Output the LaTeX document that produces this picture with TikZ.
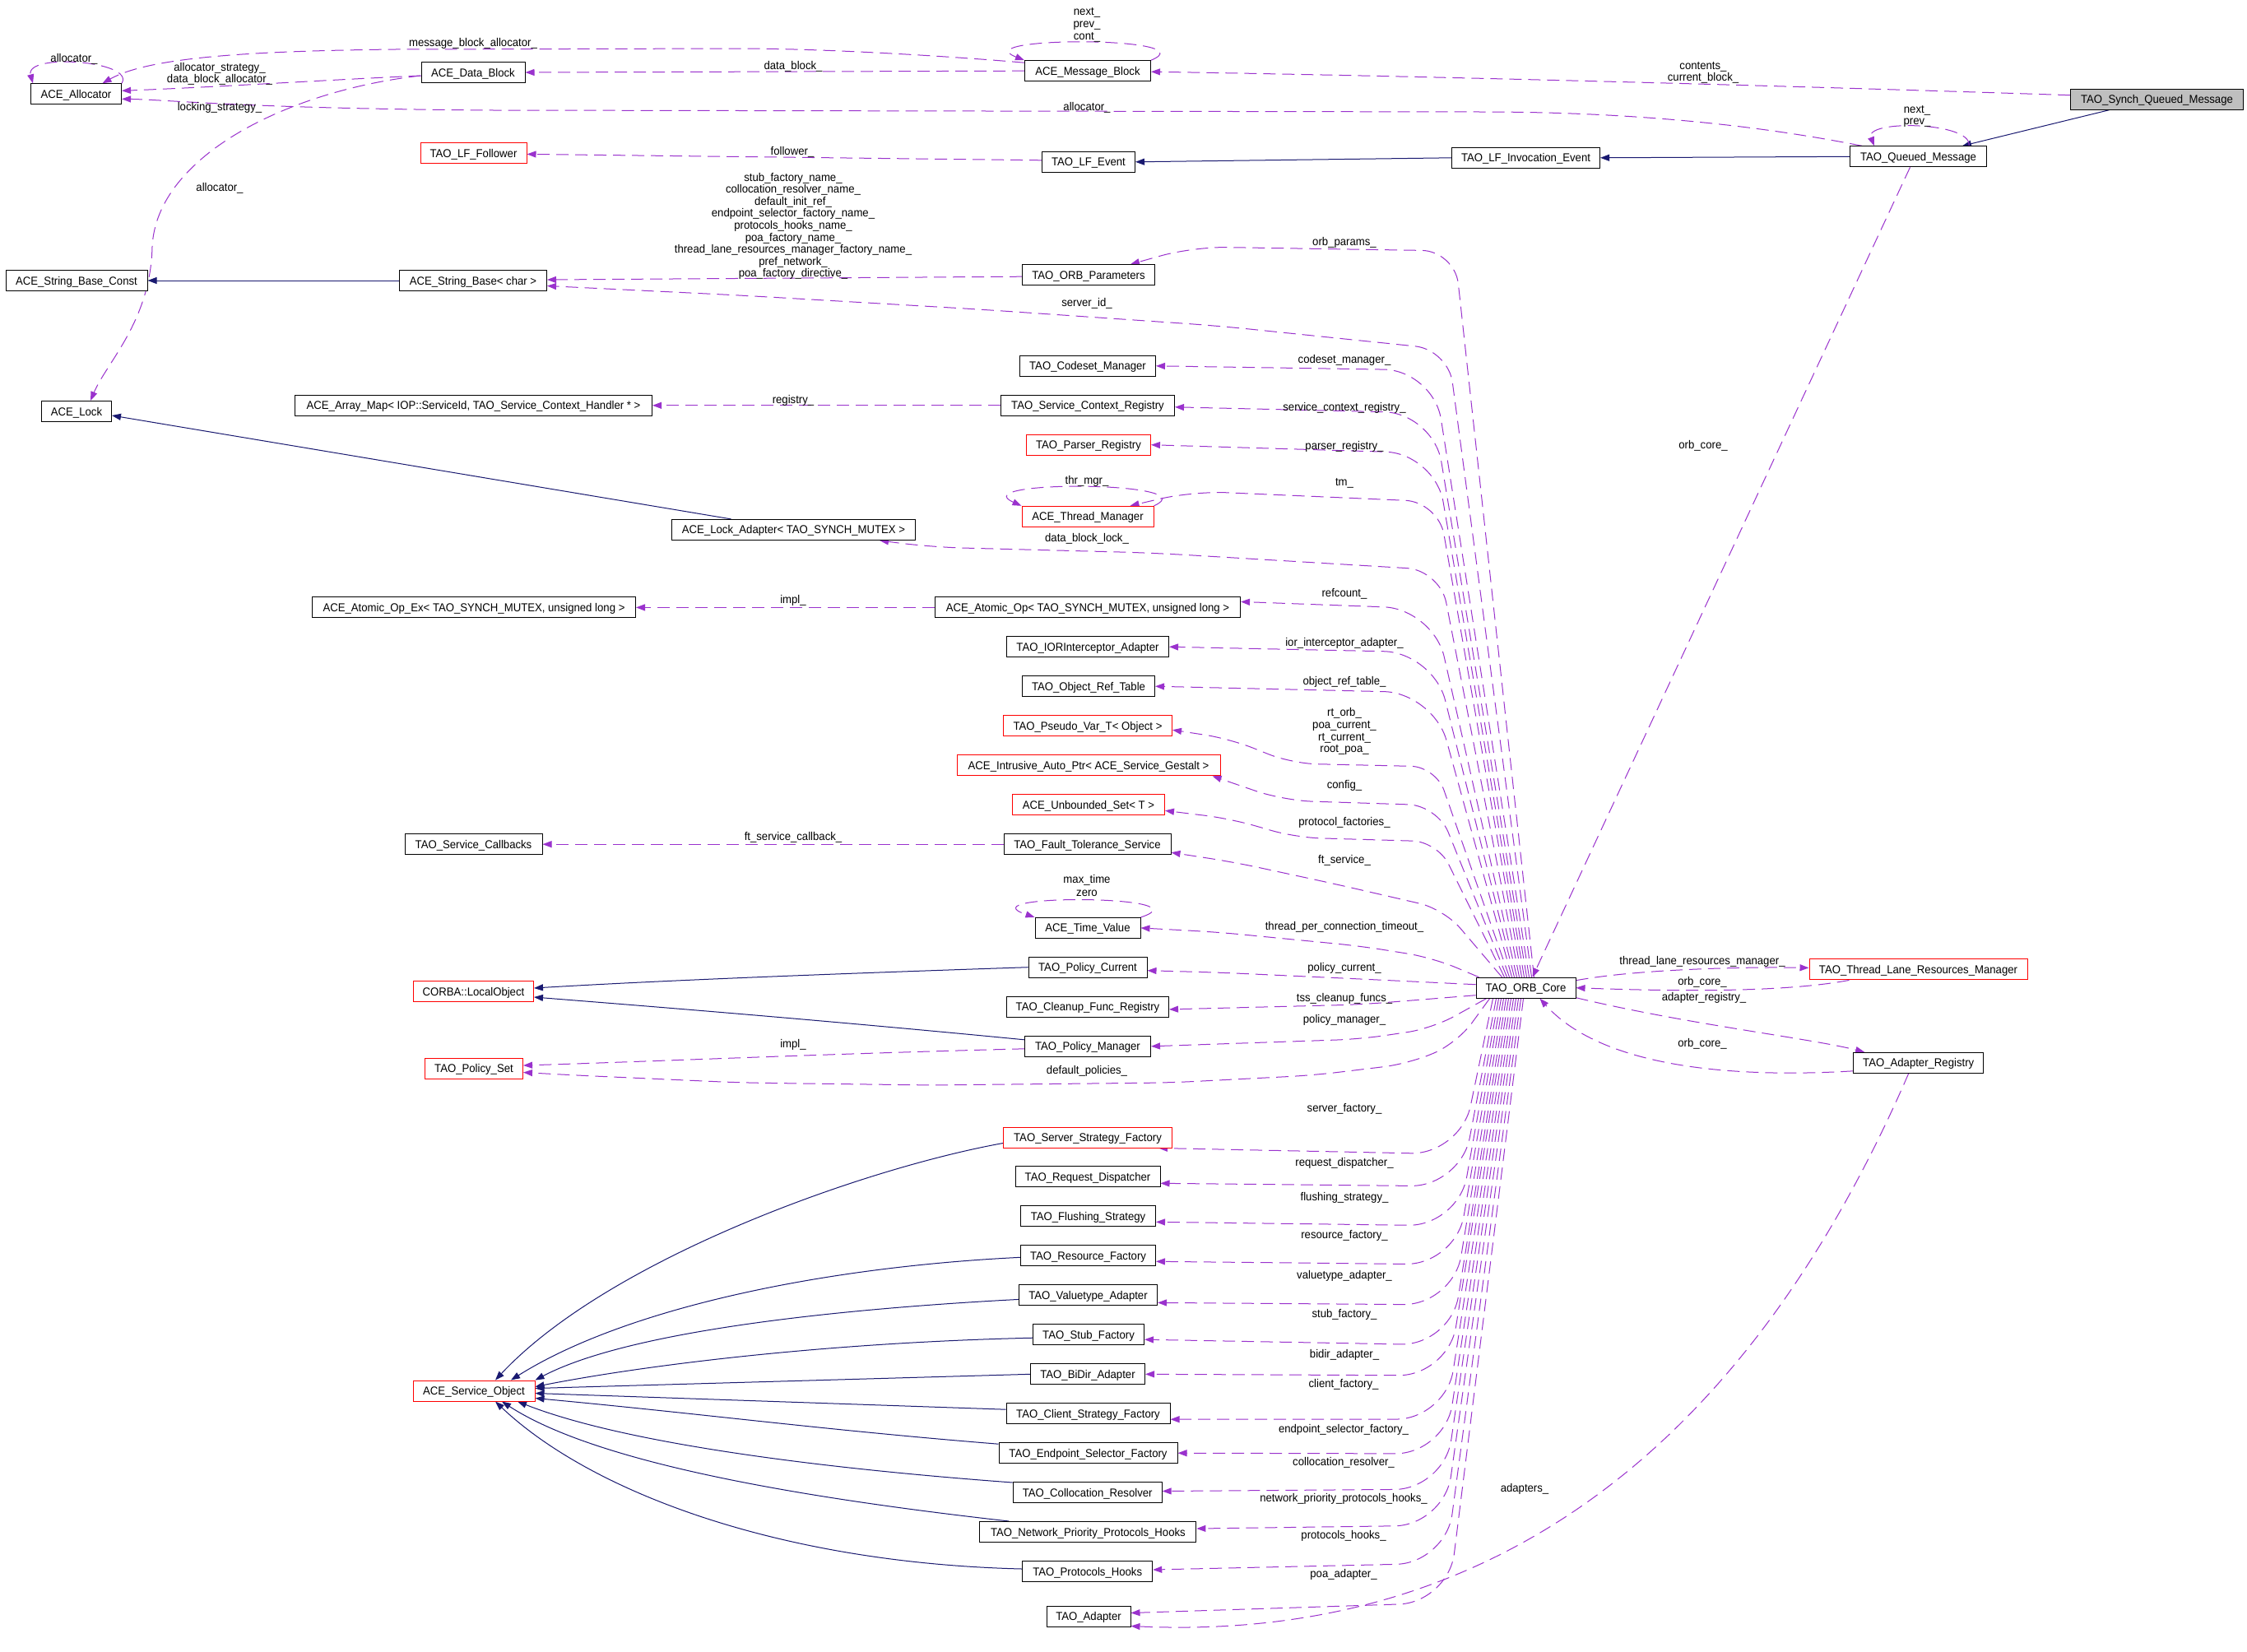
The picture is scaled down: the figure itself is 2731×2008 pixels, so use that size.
\documentclass[tikz,border=0pt]{standalone}
\usepackage{fontspec}
\newfontfamily\dox{Liberation Sans}[FakeStretch=0.94]
\usetikzlibrary{arrows.meta}
\definecolor{dorchid}{HTML}{9A32CD}
\definecolor{mblue}{HTML}{191970}
\definecolor{grayfill}{HTML}{BFBFBF}
\pgfdeclarelayer{bg}
\pgfdeclarelayer{paper}
\pgfsetlayers{paper,bg,main}
\tikzset{
  every node/.style={font=\dox\fontsize{14}{16}\selectfont},
  box/.style={draw=black, line width=1pt, fill=white, minimum height=25pt, inner xsep=3pt, inner ysep=0pt, text height=10pt, text depth=0pt},
  redbox/.style={box, draw=red},
  graybox/.style={box, fill=grayfill},
  lab/.style={inner sep=0pt, text height=10pt, text depth=0pt},
  mem/.style={draw=dorchid, line width=1pt, dash pattern=on 15pt off 8pt, -{Triangle[length=11pt,width=8pt]}},
  fan/.style={mem, rounded corners=60pt},
  inh/.style={draw=mblue, line width=1pt, -{Triangle[length=11pt,width=8pt]}},
}
\begin{document}
\begin{tikzpicture}[x=1pt,y=-1pt]
\begin{pgfonlayer}{paper}
\fill[white] (0,0) rectangle (2731,2008);
\end{pgfonlayer}
\useasboundingbox (0,0) rectangle (2731,2008);

% ---------- nodes ----------
\node[box, minimum width=110pt] (allocator) at (92.5,114.3) {ACE\_Allocator};
\node[box, minimum width=126pt] (datablock) at (575,88) {ACE\_Data\_Block};
\node[box, minimum width=153pt] (msgblock) at (1322,86.2) {ACE\_Message\_Block};
\node[graybox, minimum width=210pt] (synch) at (2621.5,120.7) {TAO\_Synch\_Queued\_Message};
\node[box, minimum width=166pt] (queued) at (2331.5,190.3) {TAO\_Queued\_Message};
\node[box, minimum width=180pt] (lfinv) at (1854.5,191.8) {TAO\_LF\_Invocation\_Event};
\node[box, minimum width=113pt] (lfevent) at (1323,196.8) {TAO\_LF\_Event};
\node[redbox, minimum width=129pt] (lffollower) at (575.5,186.4) {TAO\_LF\_Follower};
\node[box, minimum width=172pt] (sbconst) at (93,341) {ACE\_String\_Base\_Const};
\node[box, minimum width=179pt] (stringbase) at (575,341) {ACE\_String\_Base< char >};
\node[box, minimum width=161pt] (orbparams) at (1323,334.2) {TAO\_ORB\_Parameters};
\node[box, minimum width=165pt] (codeset) at (1322,444.8) {TAO\_Codeset\_Manager};
\node[box, minimum width=434pt] (arraymap) at (575.5,492.8) {ACE\_Array\_Map< IOP::ServiceId, TAO\_Service\_Context\_Handler * >};
\node[box, minimum width=211pt] (scregistry) at (1322,492.8) {TAO\_Service\_Context\_Registry};
\node[box, minimum width=85pt] (acelock) at (93,500) {ACE\_Lock};
\node[redbox, minimum width=151pt] (parser) at (1323,540.7) {TAO\_Parser\_Registry};
\node[redbox, minimum width=160pt] (thrmgr) at (1322,627.8) {ACE\_Thread\_Manager};
\node[box, minimum width=296pt] (lockadapter) at (964.5,643.9) {ACE\_Lock\_Adapter< TAO\_SYNCH\_MUTEX >};
\node[box, minimum width=393pt] (atomicopex) at (576,738.4) {ACE\_Atomic\_Op\_Ex< TAO\_SYNCH\_MUTEX, unsigned long >};
\node[box, minimum width=371pt] (atomicop) at (1322,738.4) {ACE\_Atomic\_Op< TAO\_SYNCH\_MUTEX, unsigned long >};
\node[box, minimum width=197pt] (iorint) at (1322,786.2) {TAO\_IORInterceptor\_Adapter};
\node[box, minimum width=161pt] (objref) at (1323,834.2) {TAO\_Object\_Ref\_Table};
\node[redbox, minimum width=205pt] (pseudovar) at (1322,882.2) {TAO\_Pseudo\_Var\_T< Object >};
\node[redbox, minimum width=320pt] (intrusive) at (1323,930.3) {ACE\_Intrusive\_Auto\_Ptr< ACE\_Service\_Gestalt >};
\node[redbox, minimum width=185pt] (unbounded) at (1323,978.3) {ACE\_Unbounded\_Set< T >};
\node[box, minimum width=167pt] (svccallbacks) at (575.5,1026.2) {TAO\_Service\_Callbacks};
\node[box, minimum width=203pt] (fts) at (1321.5,1026.2) {TAO\_Fault\_Tolerance\_Service};
\node[box, minimum width=128pt] (timevalue) at (1322,1127.9) {ACE\_Time\_Value};
\node[box, minimum width=144pt] (policycurrent) at (1322,1175.7) {TAO\_Policy\_Current};
\node[box, minimum width=121pt] (orb) at (1854.5,1200.7) {TAO\_ORB\_Core};
\node[redbox, minimum width=265pt] (tlrm) at (2331.5,1178.4) {TAO\_Thread\_Lane\_Resources\_Manager};
\node[redbox, minimum width=146pt] (localobject) at (575.5,1205) {CORBA::LocalObject};
\node[box, minimum width=197pt] (cleanup) at (1322,1223.9) {TAO\_Cleanup\_Func\_Registry};
\node[box, minimum width=153pt] (policymgr) at (1322,1271.8) {TAO\_Policy\_Manager};
\node[box, minimum width=158pt] (adreg) at (2331.7,1291.8) {TAO\_Adapter\_Registry};
\node[redbox, minimum width=119pt] (policyset) at (576,1298.5) {TAO\_Policy\_Set};
\node[redbox, minimum width=205pt] (ssf) at (1322,1382.5) {TAO\_Server\_Strategy\_Factory};
\node[box, minimum width=176pt] (reqdisp) at (1322,1430.3) {TAO\_Request\_Dispatcher};
\node[box, minimum width=164pt] (flushing) at (1322.5,1478.3) {TAO\_Flushing\_Strategy};
\node[box, minimum width=164pt] (resource) at (1322.5,1526.3) {TAO\_Resource\_Factory};
\node[box, minimum width=168pt] (valuetype) at (1322.5,1574.4) {TAO\_Valuetype\_Adapter};
\node[box, minimum width=135pt] (stubfactory) at (1323,1622.2) {TAO\_Stub\_Factory};
\node[redbox, minimum width=148pt] (svcobject) at (576,1690.5) {ACE\_Service\_Object};
\node[box, minimum width=139pt] (bidir) at (1322,1670.3) {TAO\_BiDir\_Adapter};
\node[box, minimum width=199pt] (csf) at (1322.5,1718.2) {TAO\_Client\_Strategy\_Factory};
\node[box, minimum width=217pt] (esf) at (1322.5,1766.2) {TAO\_Endpoint\_Selector\_Factory};
\node[box, minimum width=181pt] (collres) at (1321.7,1814) {TAO\_Collocation\_Resolver};
\node[box, minimum width=263pt] (npph) at (1322.4,1862) {TAO\_Network\_Priority\_Protocols\_Hooks};
\node[box, minimum width=158pt] (phooks) at (1321.7,1910) {TAO\_Protocols\_Hooks};
\node[box, minimum width=102pt] (adapter) at (1323,1964.5) {TAO\_Adapter};

% ---------- labels ----------
\node[lab] (la1) at (90,70) {allocator\_};
\node[lab] (la2) at (575,51) {message\_block\_allocator\_};
\node[lab] (la3) at (267,81) {allocator\_strategy\_};
\node[lab] (la4) at (267,95) {data\_block\_allocator\_};
\node[lab] (la5) at (267,129) {locking\_strategy\_};
\node[lab] (la6) at (1321,13) {next\_};
\node[lab] (la7) at (1321,28) {prev\_};
\node[lab] (la8) at (1321,43) {cont\_};
\node[lab] (la9) at (964,79) {data\_block\_};
\node[lab] (la10) at (1321,129) {allocator\_};
\node[lab] (la11) at (2070,79) {contents\_};
\node[lab] (la12) at (2070,93) {current\_block\_};
\node[lab] (la13) at (2330,132) {next\_};
\node[lab] (la14) at (2330,146) {prev\_};
\node[lab] (la15) at (963,183) {follower\_};
\node[lab] (la16) at (267,227) {allocator\_};
\node[lab] (lp1) at (964,215) {stub\_factory\_name\_};
\node[lab] (lp2) at (964,229.6) {collocation\_resolver\_name\_};
\node[lab] (lp3) at (964,244.2) {default\_init\_ref\_};
\node[lab] (lp4) at (964,258.8) {endpoint\_selector\_factory\_name\_};
\node[lab] (lp5) at (964,273.4) {protocols\_hooks\_name\_};
\node[lab] (lp6) at (964,288) {poa\_factory\_name\_};
\node[lab] (lp7) at (964,302.6) {thread\_lane\_resources\_manager\_factory\_name\_};
\node[lab] (lp8) at (964,317.2) {pref\_network\_};
\node[lab] (lp9) at (964,331.8) {poa\_factory\_directive\_};
\node[lab] (lb1) at (1634,293) {orb\_params\_};
\node[lab] (lb2) at (1321,367) {server\_id\_};
\node[lab] (lb3) at (1634,436) {codeset\_manager\_};
\node[lab] (lb4) at (964,485) {registry\_};
\node[lab] (lb5) at (1634,494.6) {service\_context\_registry\_};
\node[lab] (lb6) at (1634,541) {parser\_registry\_};
\node[lab] (lb7) at (1321,583) {thr\_mgr\_};
\node[lab] (lb8) at (1634,585) {tm\_};
\node[lab] (lb9) at (1321,653) {data\_block\_lock\_};
\node[lab] (lb10) at (964,728.5) {impl\_};
\node[lab] (lb11) at (1634,720) {refcount\_};
\node[lab] (lb12) at (1634,780) {ior\_interceptor\_adapter\_};
\node[lab] (lb13) at (1634,827) {object\_ref\_table\_};
\node[lab] (lb14) at (1634,865) {rt\_orb\_};
\node[lab] (lb15) at (1634,880) {poa\_current\_};
\node[lab] (lb16) at (1634,895) {rt\_current\_};
\node[lab] (lb17) at (1634,909) {root\_poa\_};
\node[lab] (lb18) at (1634,953) {config\_};
\node[lab] (lb19) at (1634,998.5) {protocol\_factories\_};
\node[lab] (lb20) at (1634,1044) {ft\_service\_};
\node[lab] (lb21) at (964,1016) {ft\_service\_callback\_};
\node[lab] (lb22) at (1321,1068.5) {max\_time};
\node[lab] (lb23) at (1321,1084) {zero};
\node[lab] (lb24) at (1634,1125) {thread\_per\_connection\_timeout\_};
\node[lab] (lb25) at (1634,1175) {policy\_current\_};
\node[lab] (lb26) at (1634,1212) {tss\_cleanup\_funcs\_};
\node[lab] (lb27) at (1634,1238.5) {policy\_manager\_};
\node[lab] (lb28) at (964,1268.5) {impl\_};
\node[lab] (lb29) at (1321,1300.7) {default\_policies\_};
\node[lab] (lb30) at (1634,1346) {server\_factory\_};
\node[lab] (lb31) at (1634,1412) {request\_dispatcher\_};
\node[lab] (lb32) at (1634,1454.6) {flushing\_strategy\_};
\node[lab] (lb33) at (1634,1500.7) {resource\_factory\_};
\node[lab] (lb34) at (1634,1549) {valuetype\_adapter\_};
\node[lab] (lb35) at (1634,1596) {stub\_factory\_};
\node[lab] (lb36) at (1634,1645) {bidir\_adapter\_};
\node[lab] (lb37) at (1633,1681.6) {client\_factory\_};
\node[lab] (lb38) at (1633,1736) {endpoint\_selector\_factory\_};
\node[lab] (lb39) at (1633,1776) {collocation\_resolver\_};
\node[lab] (lb40) at (1633,1820) {network\_priority\_protocols\_hooks\_};
\node[lab] (lb41) at (1633,1865) {protocols\_hooks\_};
\node[lab] (lb42) at (1633,1912) {poa\_adapter\_};
\node[lab] (lb43) at (1853,1808) {adapters\_};
\node[lab] (lb44) at (2069,1167) {thread\_lane\_resources\_manager\_};
\node[lab] (lb45) at (2069,1192) {orb\_core\_};
\node[lab] (lb46) at (2071,1211) {adapter\_registry\_};
\node[lab] (lb47) at (2069,1267) {orb\_core\_};
\node[lab] (lb48) at (2070,540) {orb\_core\_};

\begin{pgfonlayer}{bg}
% ---------- inheritance ----------
\draw[inh] ([xshift=-58pt]synch.south) -- ([xshift=-30pt]queued.north east);
\draw[inh] (queued.west) -- (lfinv.east);
\draw[inh] (lfinv.west) -- (lfevent.east);
\draw[inh] (stringbase.west) -- (sbconst.east);
\draw[inh] ([xshift=-76pt]lockadapter.north) -- ([yshift=-5pt]acelock.east);
\draw[inh] (policycurrent.west) .. controls (1000,1184) and (800,1192) .. ([yshift=4pt]localobject.east);
\draw[inh] ([yshift=8pt]policymgr.west) .. controls (1000,1240) and (800,1224) .. ([yshift=-7pt]localobject.east);
\draw[inh] ([yshift=-7pt]ssf.west) .. controls (1050,1420) and (740,1530) .. ([xshift=26pt]svcobject.north);
\draw[inh] ([yshift=-2pt]resource.west) .. controls (1000,1540) and (760,1590) .. ([xshift=45pt]svcobject.north);
\draw[inh] ([yshift=-5pt]valuetype.west) .. controls (1000,1592) and (760,1620) .. (svcobject.north east);
\draw[inh] ([yshift=-4pt]stubfactory.west) .. controls (1000,1632) and (780,1660) .. ([yshift=5pt]svcobject.east);
\draw[inh] (bidir.west) -- ([yshift=3pt]svcobject.east);
\draw[inh] ([yshift=5pt]csf.west) -- ([yshift=-3pt]svcobject.east);
\draw[inh] ([yshift=11pt]esf.west) .. controls (1000,1738) and (850,1718) .. ([yshift=-9pt]svcobject.east);
\draw[inh] ([yshift=12pt]collres.west) .. controls (1000,1785) and (760,1755) .. ([xshift=53pt]svcobject.south);
\draw[inh] ([xshift=-96pt]npph.north) .. controls (950,1818) and (720,1775) .. ([xshift=34pt]svcobject.south);
\draw[inh] ([yshift=3pt]phooks.west) .. controls (950,1900) and (720,1815) .. ([xshift=26pt]svcobject.south);

% ---------- members (left / top) ----------
\draw[mem] (msgblock.west) -- (datablock.east);
\draw[mem] ([yshift=-4pt]datablock.west) .. controls (400,97) and (260,106) .. ([yshift=4pt]allocator.east);
\draw[mem] ([yshift=-4pt]datablock.west) .. controls (350,110) and (190,190) .. (185,300) .. controls (183,390) and (130,440) .. ([xshift=17pt]acelock.north);
\draw[mem] ([xshift=15pt]queued.north west) .. controls (2150,155) and (2000,136) .. (1800,136) -- (600,134) .. controls (300,132) and (200,121) .. ([yshift=-6pt]allocator.east);
\draw[mem] ([yshift=10pt]msgblock.west) .. controls (1150,68) and (1000,59) .. (900,59) -- (480,60) .. controls (300,62) and (180,70) .. ([xshift=32pt]allocator.north);
\draw[mem] (allocator.north east) .. controls (165,74) and (30,64) .. ([xshift=3pt]allocator.north west);
\draw[mem] (msgblock.north east) .. controls (1470,44) and (1170,44) .. (msgblock.north west);
\draw[mem] ([xshift=-22pt]queued.north east) .. controls (2398,148) and (2265,145) .. ([xshift=30pt]queued.north west);
\draw[mem] (thrmgr.north east) .. controls (1470,585) and (1170,583) .. (thrmgr.north west);
\draw[mem] (timevalue.north east) .. controls (1470,1088) and (1170,1086) .. (timevalue.north west);
\draw[mem] ([yshift=5pt]synch.west) .. controls (2100,102) and (1700,92) .. ([yshift=-1pt]msgblock.east);
\draw[mem] ([yshift=2pt]lfevent.west) -- ([yshift=-1pt]lffollower.east);
\draw[mem] ([yshift=-2pt]orbparams.west) -- ([yshift=1pt]stringbase.east);
\draw[mem] (scregistry.west) -- (arraymap.east);
\draw[mem] (atomicop.west) -- (atomicopex.east);
\draw[mem] (fts.west) -- (svccallbacks.east);
\draw[mem] ([yshift=-3pt]policymgr.west) .. controls (1000,1281) and (800,1290) .. ([yshift=3.5pt]policyset.east);

% ---------- ORB core, right side ----------
\draw[mem] ([yshift=9pt]orb.east) .. controls (1990,1178) and (2120,1175) .. ([yshift=2pt]tlrm.west);
\draw[mem] ([xshift=49pt]tlrm.south west) .. controls (2160,1208) and (2010,1204) .. (orb.east);
\draw[mem] ([yshift=-12pt]orb.east) .. controls (2050,1245) and (2200,1262) .. ([xshift=14pt]adreg.north west);
\draw[mem] ([yshift=-10pt]adreg.west) .. controls (2080,1312) and (1940,1290) .. ([xshift=17pt]orb.south);
\draw[mem] ([xshift=-10pt]queued.south) -- ([xshift=8pt]orb.north);
\draw[mem] ([xshift=-12pt]adreg.south) .. controls (2170,1650) and (1900,2000) .. ([yshift=-12pt]adapter.east);

% ---------- ORB core fan, upper ----------
\draw[fan, rounded corners=40pt] ([xshift=10pt]orb.north) -- (1768,305) -- (1450,300) -- ([xshift=-30pt]orbparams.north east);
\draw[fan, rounded corners=40pt] ([xshift=7pt]orb.north) -- (1760,425) -- (1480,396) -- (1190,376) -- (900,359) -- ([yshift=-6.5pt]stringbase.east);
\draw[fan] ([xshift=4pt]orb.north) -- (1742,450) -- (codeset.east);
\draw[fan] ([xshift=1pt]orb.north) -- (1742,502) -- ([yshift=-2pt]scregistry.east);
\draw[fan] ([xshift=-2pt]orb.north) -- (1744,551) -- (parser.east);
\draw[fan, rounded corners=40pt] ([xshift=-5pt]orb.north) -- (1748,610) -- (1450,597) -- ([xshift=-29pt]thrmgr.north east);
\draw[fan, rounded corners=40pt] ([xshift=-8pt]orb.north) -- (1750,693) -- (1400,672) -- (1130,665) -- ([xshift=-44pt]lockadapter.south east);
\draw[fan] ([xshift=-11pt]orb.north) -- (1742,740) -- ([yshift=7pt]atomicop.east);
\draw[fan] ([xshift=-14pt]orb.north) -- (1742,793) -- (iorint.east);
\draw[fan] ([xshift=-17pt]orb.north) -- (1742,842) -- (objref.east);
\draw[fan, rounded corners=30pt] ([xshift=-20pt]orb.north) -- (1745,932) -- (1570,928) -- (1495,898) -- ([yshift=-5pt]pseudovar.east);
\draw[fan, rounded corners=35pt] ([xshift=-23pt]orb.north) -- (1747,979) -- (1560,973) -- ([xshift=-10pt]intrusive.south east);
\draw[fan, rounded corners=30pt] ([xshift=-26pt]orb.north) -- (1747,1023) -- (1575,1018) -- (1495,995) -- ([yshift=-7pt]unbounded.east);
\draw[fan, rounded corners=30pt] ([xshift=-29pt]orb.north) -- (1755,1105) -- (1625,1075) -- (1500,1048) -- ([yshift=-10pt]fts.east);
\draw[fan, rounded corners=30pt] ([xshift=4pt]orb.north west) -- (1741,1164) -- (1654,1150) -- (1480,1133) -- (timevalue.east);
\draw[fan, rounded corners=30pt] ([yshift=4pt]orb.west) -- (1654,1190) -- (1480,1182) -- ([yshift=-4pt]policycurrent.east);
\draw[fan, rounded corners=30pt] ([yshift=-9pt]orb.west) -- (1654,1221) -- ([yshift=-3pt]cleanup.east);
\draw[fan, rounded corners=30pt] ([xshift=-48pt]orb.south) -- (1741,1250) -- (1654,1263) -- (policymgr.east);
\draw[fan, rounded corners=30pt] ([xshift=-44pt]orb.south) -- (1771,1268) -- (1712,1293) -- (1596,1307) -- (1422,1316) -- (1132,1319) -- (900,1316) -- (700,1307) -- ([yshift=-5pt]policyset.east);

% ---------- ORB core fan, lower ----------
\draw[fan] ([xshift=-40pt]orb.south) -- (1775,1403) -- ([xshift=-17pt]ssf.south east);
\draw[fan] ([xshift=-36pt]orb.south) -- (1775,1442) -- ([yshift=-8pt]reqdisp.east);
\draw[fan] ([xshift=-33pt]orb.south) -- (1772,1490) -- ([yshift=-7pt]flushing.east);
\draw[fan] ([xshift=-30pt]orb.south) -- (1769,1537) -- ([yshift=-7pt]resource.east);
\draw[fan] ([xshift=-27pt]orb.south) -- (1766,1586) -- ([yshift=-9pt]valuetype.east);
\draw[fan] ([xshift=-24pt]orb.south) -- (1763,1635) -- ([yshift=-6pt]stubfactory.east);
\draw[fan] ([xshift=-21pt]orb.south) -- (1760,1672) -- (bidir.east);
\draw[fan] ([xshift=-18pt]orb.south) -- (1757,1725) -- ([yshift=-7pt]csf.east);
\draw[fan] ([xshift=-15pt]orb.south) -- (1756,1767) -- (esf.east);
\draw[fan] ([xshift=-12pt]orb.south) -- (1755,1810) -- ([yshift=1.5pt]collres.east);
\draw[fan] ([xshift=-9pt]orb.south) -- (1755,1854) -- ([yshift=4pt]npph.east);
\draw[fan] ([xshift=-6pt]orb.south) -- (1757,1900) -- ([yshift=2pt]phooks.east);
\draw[fan] ([xshift=-3pt]orb.south) -- (1760,1948) -- ([yshift=4pt]adapter.east);
\end{pgfonlayer}
\end{tikzpicture}
\end{document}
